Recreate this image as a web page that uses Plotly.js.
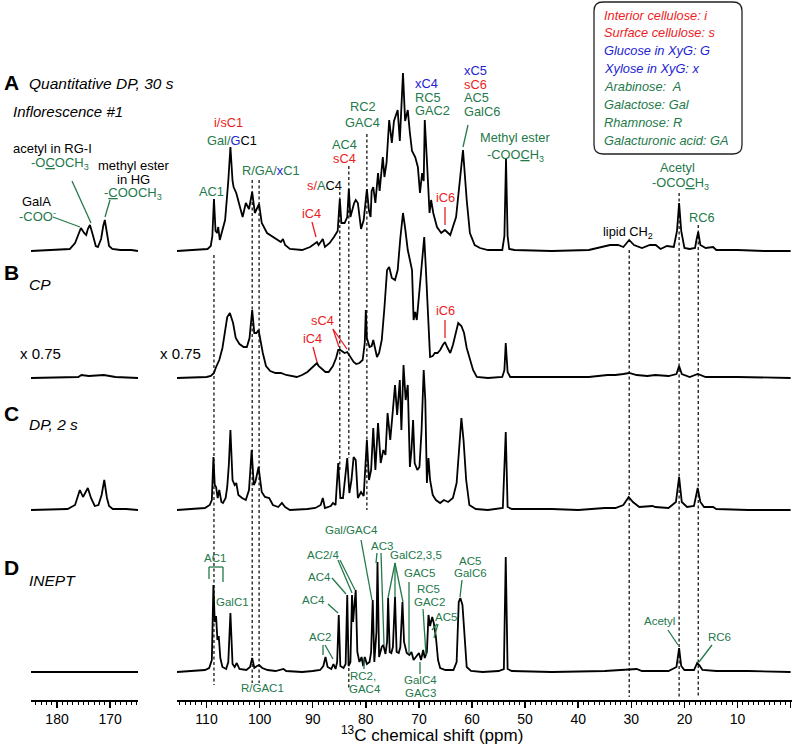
<!DOCTYPE html>
<html><head><meta charset="utf-8">
<script src="https://cdn.plot.ly/plotly-3.0.1.min.js"></script>
<style>body{margin:0;padding:0;background:#fff}#chart{width:794px;height:746px}</style>
</head><body><div id="chart"></div>
<script>
// ---------------- DATA (ppm, intensity above each spectrum's baseline) ----------------
const leftA_ppm = [184.9,181,179.4,177.6,176.6,176.0,175.5,174.9,174.5,174.2,173.8,173.2,172.7,172.3,171.7,171.3,171.0,170.6,170.2,169.6,168.1,166,164.75];
const leftA_int = [0,1,1,2,8,17,23,18,16,22,26,15,5,4,12,25,31,18,5,2,1,1,0];
const leftB_ppm = [184.9,179,176,175.4,174,171.2,169,164.75];
const leftB_int = [0,1,1,3,2,3,1,0];
const leftC_ppm = [184.9,180,178,176.6,176.1,175.7,175.1,174.6,174.2,173.6,172.9,172.2,171.6,171.1,170.6,170.2,169.5,167,164.75];
const leftC_int = [0,1,1,5,14,20,13,18,22,12,4,5,15,30,12,4,1,1,0];
const leftD_ppm = [184.9,175,164.75];
const leftD_int = [0,0,0];

const rightA_ppm = [115.6,111,109.8,109.2,108.9,108.6,108.3,108.0,107.8,107.5,107.0,106.5,105.9,105.5,105.1,104.9,104.4,103.9,103.2,102.6,102.0,101.4,100.9,100.1,99.6,98.6,97.5,96.0,95.6,95.2,94.3,92.0,90.5,89.5,89.2,88.9,88.1,87.7,86.8,86.0,85.3,84.9,84.6,84.0,83.5,83.2,82.9,82.2,81.9,81.5,80.9,80.4,79.8,79.4,79.1,78.9,78.6,78.2,77.7,77.4,76.8,76.5,76.1,75.6,75.1,74.7,74.0,73.6,73.0,72.6,72.1,71.7,71.3,70.7,70.2,69.8,69.4,69.1,68.9,68.5,68.0,67.7,67.3,66.6,65.8,65.1,64.1,63.0,62.4,61.7,61.0,60.4,59.5,58.5,57,54.3,53.9,53.6,53.3,53.0,52,45,38,35.3,34,32.5,31.5,30.4,29.5,28,26.5,25.4,24.5,23.3,22.0,21.4,21.0,20.6,20.0,19,18,17.7,17.4,17.0,16.0,14.6,14.0,10,5,0];
const rightA_int = [0,1,2,5,15,52,20,18,24,11,21,31,70,104,70,64,58,48,34,48,42,59,38,47,28,18,14,9,12,6,2,1,4,8,9,6,12,4,8,14,20,52,28,28,34,62,34,48,51,48,22,31,62,40,34,60,64,48,78,60,94,74,88,131,108,130,141,110,178,130,141,118,100,94,84,58,78,70,131,91,38,51,38,24,18,21,16,34,64,101,51,18,6,3,1,1,15,92,15,2,1,0,1,4,6,6,4,11,6,3,6,6,2,5,4,20,48,20,3,2,3,12,19,6,3,4,1,1,0,0];

const rightB_ppm = [115.6,112,110,109.2,108.6,108.2,107.6,107.0,106.5,106.1,105.6,105.0,104.5,103.8,103.0,102.4,101.9,101.4,101.0,100.6,100.2,99.8,99.4,98.8,98.0,97.0,96.0,95.0,93.0,92,91,90.0,89.5,89.2,88.9,88.4,87.6,87.0,86.2,85.6,85.2,84.8,84.4,84.0,83.5,83.0,82.3,81.8,81.2,80.6,80.2,80.0,79.8,79.3,78.9,78.6,78.2,77.9,77.5,77.0,76.5,76.0,75.6,75.1,74.5,74.0,73.5,73.0,72.6,72.1,71.7,71.3,71.0,70.7,70.4,70.1,69.8,69.4,69.0,68.7,68.4,68.1,67.9,67.4,67.0,66.5,66.0,65.5,65.1,64.6,64.1,63.6,63.0,62.6,62.0,61.5,61.0,60.4,59.8,59.1,57,54.3,53.9,53.65,53.3,52.8,45,38,34.5,33,31.5,30.4,29,27,25.5,23,21.5,21.0,20.5,19,17.5,16,10,0];
const rightB_int = [0,1,1,2,5,11,18,30,45,61,65,55,40,34,31,31,40,68,45,45,48,35,25,12,7,5,5,3,1,3,6,11,13,15,12,10,6,6,12,20,28,28,26,25,26,22,16,14,15,18,35,68,40,31,32,38,27,21,25,38,70,108,111,100,98,108,140,165,150,128,118,108,58,66,58,75,91,120,141,110,75,35,21,22,25,25,28,33,36,30,25,33,48,55,52,45,30,18,8,1,0,1,8,35,6,1,1,1,3,3,4,5,3,2,3,2,4,12,4,1,4,1,1,0];

const rightC_ppm = [115.6,112,110.3,109.4,109.0,108.7,108.45,108.2,107.9,107.6,107.2,106.9,106.4,106.1,105.8,105.5,105.1,104.7,104.4,104.0,103.3,102.6,102.0,101.5,101.1,100.8,100.2,99.6,99.0,98.2,97.5,96.5,95.8,95.2,94.3,91,89.5,88.5,88.1,87.7,86.6,86.2,85.7,85.2,84.8,84.3,83.5,83.1,82.7,82.3,81.9,81.5,80.9,80.4,79.8,79.4,79.0,78.6,78.2,77.7,77.2,76.7,76.3,75.9,75.4,74.9,74.5,74.1,73.6,73.3,72.9,72.5,72.1,71.7,71.4,71.1,70.8,70.3,69.9,69.5,69.1,68.8,68.5,68.2,67.9,67.4,66.8,66.0,65.3,64.5,63.6,62.9,62.4,62.0,61.6,61.1,60.5,59.3,57,54.2,53.65,53.3,52.5,45,40,35,33,31.5,30.5,29.7,28.5,26,25.5,23,21.6,21.0,20.5,19.5,18.2,17.5,17.0,16.3,14.6,14,8,0];
const rightC_int = [0,1,2,5,10,53,25,23,12,20,8,7,12,23,45,80,30,25,27,15,12,10,20,60,25,28,43,18,13,12,5,3,7,3,0,1,2,5,12,2,4,7,5,47,12,12,52,17,30,53,50,12,18,14,70,30,40,82,40,87,47,60,55,97,70,100,125,95,130,80,145,110,125,43,60,90,47,40,43,80,140,110,27,52,30,15,10,7,10,8,12,27,60,92,70,30,5,1,0,2,78,3,1,1,0,2,2,5,13,8,3,4,3,2,8,33,8,3,4,22,8,3,3,1,0,0];

const rightD_ppm = [115.6,112,110.3,109.5,109.0,108.7,108.45,108.2,107.95,107.7,107.4,107.0,106.3,105.9,105.5,105.1,104.7,104.3,103.8,102.5,101.8,101.4,101.0,100.5,100.1,99.5,98.5,97,95.5,95,92,90,88.6,88.0,87.6,87.2,86.5,86.1,85.7,85.4,85.1,84.8,84.2,83.8,83.5,83.25,82.9,82.6,82.4,82.1,81.9,81.6,81.2,80.8,80.5,80.2,79.8,79.3,79.0,78.7,78.4,78.0,77.8,77.5,77.0,76.7,76.3,76.0,75.8,75.5,75.2,74.9,74.5,74.2,73.8,73.5,73.1,72.8,72.3,71.8,71.4,71.0,70.5,70.0,69.6,69.2,68.9,68.5,68.2,67.9,67.5,67.2,66.8,66.4,66.0,65,63.5,62.9,62.5,62.2,61.8,61.4,61.0,60.2,58,55,54.0,53.65,53.3,52.5,45,35,30.2,29.0,28,23,21.5,21.0,20.6,20.0,18.2,17.6,17.2,16.6,14,8,0];
const rightD_int = [0,1,2,4,12,87,50,56,32,36,14,5,3,10,59,8,5,9,3,2,5,14,4,6,7,4,2,1,3,1,0,1,2,6,15,5,3,8,3,10,57,6,4,8,77,6,10,77,50,70,82,20,10,15,6,15,8,10,20,72,10,40,110,15,25,27,18,30,74,20,19,25,75,20,19,25,70,30,19,17,20,12,15,19,12,22,14,20,57,46,55,49,35,12,4,2,2,10,70,74,67,30,5,1,0,1,3,115,3,1,0,1,2,3,1,1,5,24,6,2,2,9,7,2,1,1,0];

// guide lines (ppm on right axis)
const guidePpm = [108.6,101.4,100.1,84.9,83.2,79.8,30.4,21.0,17.4];

// axis ticks
const leftTicks = [180,170];
const rightTicks = [0,10,20,30,40,50,60,70,80,90,100,110];
const rightTickText = [' ','10','20','30','40','50','60','70','80','90','100','110'];

// legend (abbreviation key)
const keyLines = ['Interior cellulose: i','Surface cellulose: s','Glucose in XyG: G','Xylose in XyG: x','Arabinose:  A','Galactose: Gal','Rhamnose: R','Galacturonic acid: GA'];
const keyGroups = ['red','red','blue','blue','green','green','green','green'];

// ---------------- LAYOUT HELPERS ----------------
const W = 794, H = 746;
const px = x => x / W, py = y => 1 - y / H;
const FONT = 'Liberation Sans, Arial, sans-serif';
const GREEN = '#24794a', RED = '#ec1c24', BLUE = '#2323d2', BLACK = '#000';
const COL = {red: RED, blue: BLUE, green: GREEN};
const sp = (c, t) => `<span style="color:${c}">${t}</span>`;

const baselines = {y: 251, y2: 378, y3: 510, y4: 672};

const traces = [];
function spec(xs, ys, xa, ya) {
  traces.push({x: xs, y: ys, xaxis: xa, yaxis: ya, type: 'scatter', mode: 'lines',
    line: {color: '#000', width: 1.8}, hoverinfo: 'skip', showlegend: false});
}
spec(leftA_ppm, leftA_int, 'x', 'y');   spec(rightA_ppm, rightA_int, 'x2', 'y');
spec(leftB_ppm, leftB_int, 'x', 'y2');  spec(rightB_ppm, rightB_int, 'x2', 'y2');
spec(leftC_ppm, leftC_int, 'x', 'y3');  spec(rightC_ppm, rightC_int, 'x2', 'y3');
spec(leftD_ppm, leftD_int, 'x', 'y4');  spec(rightD_ppm, rightD_int, 'x2', 'y4');

const ann = [];
function T(x, y, text, o = {}) {
  ann.push({xref: 'paper', yref: 'paper', x: px(x), y: py(y), text: text, showarrow: false,
    xanchor: o.anchor || 'center', yanchor: 'middle', borderpad: 0,
    font: {family: FONT, size: o.size || 13, color: o.color || BLACK}});
}
const shapes = [];
function L(x0, y0, x1, y1, c) {
  shapes.push({type: 'line', xref: 'paper', yref: 'paper', x0: px(x0), y0: py(y0), x1: px(x1), y1: py(y1),
    line: {color: c || GREEN, width: 1.3}});
}
function G(ppm, y0, y1) {
  shapes.push({type: 'line', xref: 'x2', yref: 'paper', x0: ppm, x1: ppm, y0: py(y0), y1: py(y1),
    line: {color: '#000', width: 1.2, dash: '3px,2.5px'}});
}

// dashed guides
G(guidePpm[0], 255, 685);
G(guidePpm[1], 180, 683);
G(guidePpm[2], 180, 683);
G(guidePpm[3], 192, 470);
G(guidePpm[4], 166, 458);
G(guidePpm[4], 668, 690);
G(guidePpm[5], 134, 510);
G(guidePpm[6], 250, 697);
G(guidePpm[7], 193, 697);
G(guidePpm[8], 225, 697);

// panel titles
T(3, 83, '<b>A</b>', {anchor: 'left', size: 21});
T(28, 84, '<i>Quantitative DP, 30 s</i>', {anchor: 'left', size: 15.5});
T(12, 112, '<i>Inflorescence #1</i>', {anchor: 'left', size: 15});
T(3, 272, '<b>B</b>', {anchor: 'left', size: 21});
T(28, 285, '<i>CP</i>', {anchor: 'left', size: 15.5});
T(3, 413, '<b>C</b>', {anchor: 'left', size: 21});
T(28, 424, '<i>DP, 2 s</i>', {anchor: 'left', size: 15.5});
T(3, 567, '<b>D</b>', {anchor: 'left', size: 21});
T(28, 580, '<i>INEPT</i>', {anchor: 'left', size: 15.5});

// panel A, carbonyl region
T(52, 148, 'acetyl in RG-I');
T(60, 163, sp(GREEN, '-O<u>C</u>OCH<sub>3</sub>'));
T(133, 165, 'methyl ester');
T(133, 179, 'in HG');
T(133, 194, sp(GREEN, '-<u>C</u>OOCH<sub>3</sub>'));
T(36, 202, 'GalA');
T(37, 216, sp(GREEN, '-COO<sup>-</sup>'));
L(53, 217, 80, 227); L(72, 181, 91, 223); L(110, 200, 105, 217);

// panel A, right
const AS = 12.8;
T(212, 192, 'AC1', {color: GREEN, size: AS});
T(228, 122, 'i/sC1', {color: RED, size: AS});
T(232, 140, sp(GREEN, 'Gal/') + sp(BLUE, 'G') + 'C1', {size: AS});
T(271, 170, sp(GREEN, 'R/GA/') + sp(BLUE, 'x') + sp(GREEN, 'C1'), {size: AS});
T(311, 213, 'iC4', {color: RED, size: AS}); L(312, 222, 316, 237, RED);
T(324, 185, sp(RED, 's/') + sp(GREEN, 'A') + 'C4', {size: AS});
T(344, 144, 'AC4', {color: GREEN, size: AS});
T(344, 158.5, 'sC4', {color: RED, size: AS});
T(363, 107, 'RC2', {color: GREEN, size: AS});
T(362, 122, 'GAC4', {color: GREEN, size: AS});
T(414, 84, 'xC4', {color: BLUE, anchor: 'left', size: AS});
T(414, 97.5, 'RC5', {color: GREEN, anchor: 'left', size: AS});
T(414, 111, 'GAC2', {color: GREEN, anchor: 'left', size: AS});
T(463, 71, 'xC5', {color: BLUE, anchor: 'left', size: AS});
T(463, 84.5, 'sC6', {color: RED, anchor: 'left', size: AS});
T(463, 98, 'AC5', {color: GREEN, anchor: 'left', size: AS});
T(463, 111.5, 'GalC6', {color: GREEN, anchor: 'left', size: AS});
L(468, 125, 463, 147);
T(445, 197, 'iC6', {color: RED, size: AS}); L(445, 207, 445, 225, RED);
T(515, 137, 'Methyl ester', {color: GREEN, size: AS});
T(515, 155, '-COO<u>C</u>H<sub>3</sub>', {color: GREEN, size: AS});
T(677, 167, 'Acetyl', {color: GREEN, size: AS});
T(680, 184, '-OCO<u>C</u>H<sub>3</sub>', {color: GREEN, size: AS});
T(628, 232, 'lipid CH<sub>2</sub>', {size: AS});
T(702, 218, 'RC6', {color: GREEN, size: AS});

// key box
keyLines.forEach((t, i) => T(603, 15 + i * 17.9, '<i>' + t + '</i>', {anchor: 'left', size: 12.8, color: COL[keyGroups[i]]}));
(function () {
  const x0 = px(594), x1 = px(742), yT = py(2), yB = py(154), rx = 9 / W, ry = 9 / H;
  const path = `M${x0 + rx},${yT} L${x1 - rx},${yT} Q${x1},${yT} ${x1},${yT - ry} L${x1},${yB + ry} Q${x1},${yB} ${x1 - rx},${yB} L${x0 + rx},${yB} Q${x0},${yB} ${x0},${yB + ry} L${x0},${yT - ry} Q${x0},${yT} ${x0 + rx},${yT} Z`;
  shapes.push({type: 'path', xref: 'paper', yref: 'paper', path: path, line: {color: '#222', width: 1.3}});
})();

// panel B
T(40, 353, 'x 0.75', {size: 15});
T(180, 353, 'x 0.75', {size: 15});
T(312, 338, 'iC4', {color: RED, size: AS}); L(313, 347, 317, 362, RED);
T(322, 321, 'sC4', {color: RED, size: AS}); L(333, 329, 339, 347, RED); L(333, 329, 347, 349, RED);
T(445, 310, 'iC6', {color: RED, size: AS}); L(445, 320, 445, 338, RED);

// panel D
const DS = 11.5;
T(215, 558, 'AC1', {color: GREEN, size: DS});
L(209, 567, 223, 567); L(209, 567, 209, 579); L(223, 567, 223, 582);
T(232, 602, 'GalC1', {color: GREEN, size: DS});
T(262, 688, 'R/GAC1', {color: GREEN, size: DS});
T(320, 637, 'AC2', {color: GREEN, size: DS}); L(323, 645, 323, 655); L(325, 645, 333, 659);
T(313, 600, 'AC4', {color: GREEN, size: DS}); L(328, 604, 338, 613);
T(319, 577, 'AC4', {color: GREEN, size: DS}); L(332, 578, 346, 594);
T(323, 555, 'AC2/4', {color: GREEN, size: DS}); L(338, 560, 352, 593); L(340, 560, 355, 590);
T(351, 530, 'Gal/GAC4', {color: GREEN, size: DS}); L(361, 540, 372, 600);
T(382, 546, 'AC3', {color: GREEN, size: DS}); L(377, 553, 376, 563); L(381, 553, 384, 645);
T(416, 555, 'GalC2,3,5', {color: GREEN, size: DS}); L(395, 563, 388, 598); L(395, 563, 395, 597); L(395, 563, 403, 602);
T(419, 573, 'GAC5', {color: GREEN, size: DS}); L(409, 582, 409, 653);
T(428, 589, 'RC5', {color: GREEN, size: DS});
T(429, 602, 'GAC2', {color: GREEN, size: DS}); L(423, 609, 426, 655);
T(446, 617, 'AC5', {color: GREEN, size: DS}); L(437, 624, 432, 630); L(438, 624, 434, 638);
T(470, 561, 'AC5', {color: GREEN, size: DS});
T(470, 573, 'GalC6', {color: GREEN, size: DS}); L(462, 580, 460, 597);
T(363, 676, 'RC2,', {color: GREEN, size: DS});
T(365, 689, 'GAC4', {color: GREEN, size: DS}); L(364, 659, 364, 669);
T(421, 680, 'GalC4', {color: GREEN, size: DS});
T(421, 693, 'GAC3', {color: GREEN, size: DS}); L(420, 662, 420, 674);
T(659, 621, 'Acetyl', {color: GREEN, size: DS}); L(668, 630, 678, 645);
T(719, 637, 'RC6', {color: GREEN, size: DS}); L(712, 645, 699, 662);

// axis title
T(432, 734, '<sup>13</sup>C chemical shift (ppm)', {size: 17});

// ---------------- AXES ----------------
const axPos = py(700);
const xCommon = {anchor: 'free', position: axPos, showgrid: false, zeroline: false, showline: true,
  linecolor: '#000', linewidth: 1.5, ticks: 'outside', ticklen: 6, tickwidth: 1.5, tickcolor: '#000',
  tickfont: {family: FONT, size: 14, color: '#000'}, fixedrange: true,
  minor: {tickmode: 'linear', tick0: 0, dtick: 1, ticks: 'outside', ticklen: 3.5, tickwidth: 1, tickcolor: '#000', showgrid: false}};

const layout = {
  width: W, height: H, margin: {l: 0, r: 0, t: 0, b: 0},
  paper_bgcolor: '#fff', plot_bgcolor: 'rgba(0,0,0,0)', showlegend: false,
  xaxis: Object.assign({}, xCommon, {domain: [px(31), px(138)], range: [184.9, 164.75], tickmode: 'array', tickvals: leftTicks}),
  xaxis2: Object.assign({}, xCommon, {domain: [px(177), px(792)], range: [115.56, -0.26], tickmode: 'array', tickvals: rightTicks, ticktext: rightTickText}),
  yaxis: {domain: [0, 1], range: [-(H - baselines.y), baselines.y], visible: false, fixedrange: true},
  yaxis2: {overlaying: 'y', range: [-(H - baselines.y2), baselines.y2], visible: false, fixedrange: true},
  yaxis3: {overlaying: 'y', range: [-(H - baselines.y3), baselines.y3], visible: false, fixedrange: true},
  yaxis4: {overlaying: 'y', range: [-(H - baselines.y4), baselines.y4], visible: false, fixedrange: true},
  annotations: ann, shapes: shapes
};

Plotly.newPlot('chart', traces, layout, {staticPlot: true, displayModeBar: false});
</script></body></html>
